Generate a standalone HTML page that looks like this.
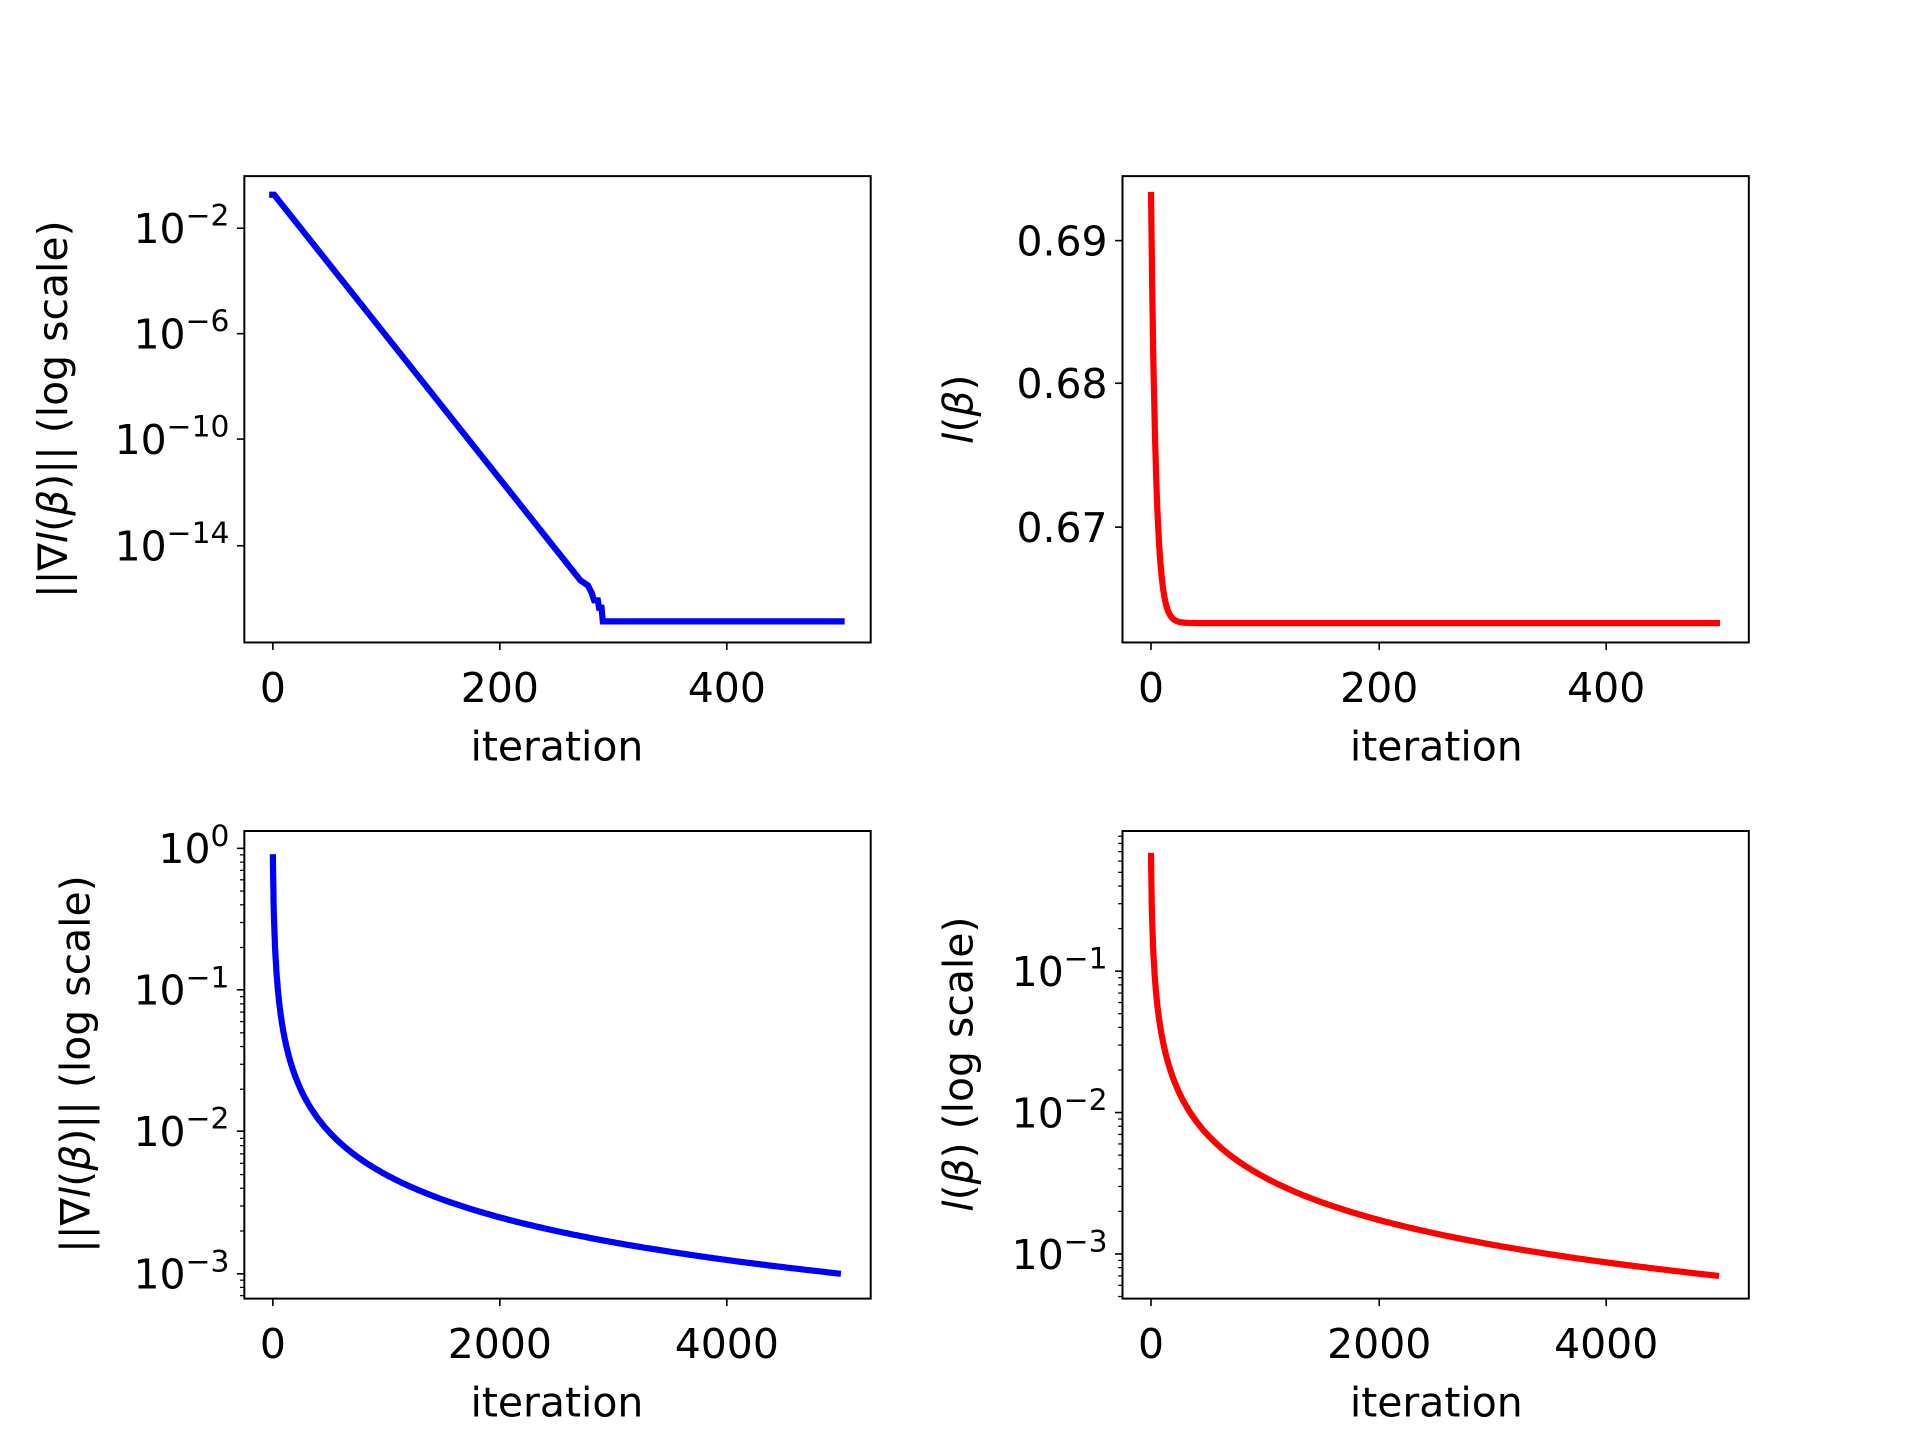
<!DOCTYPE html>
<html><head><meta charset="utf-8"><style>
html,body{margin:0;padding:0;background:#fff;}
svg{display:block;}
text{font-family:"DejaVu Sans","Liberation Sans",sans-serif;fill:#000;}
</style></head><body>
<svg id="s" width="1920" height="1440" viewBox="0 0 1548 1161" xmlns="http://www.w3.org/2000/svg"></svg>
<script>
const S=document.getElementById('s');let h='';
const FS=33;
function ax(x0,y0,x1,y1){h+=`<rect x="${x0}" y="${y0}" width="${x1-x0}" height="${y1-y0}" fill="none" stroke="#000" stroke-width="1.6"/>`;}
function xt(px,lab,yb){h+=`<line x1="${px}" y1="${yb}" x2="${px}" y2="${yb+6}" stroke="#000" stroke-width="1.3"/><text x="${px}" y="${yb+48}" font-size="${FS}" text-anchor="middle">${lab}</text>`;}
function yt(py,lab,xl,sup){h+=`<line x1="${xl}" y1="${py}" x2="${xl-6}" y2="${py}" stroke="#000" stroke-width="1.3"/>`;
 if(sup!==undefined)h+=`<text x="${xl-12}" y="${py+12}" font-size="${FS}" text-anchor="end">10<tspan dy="-14" font-size="24">${sup}</tspan></text>`;
 else h+=`<text x="${xl-12}" y="${py+12}" font-size="${FS}" text-anchor="end">${lab}</text>`;}
function mt(py,xl){h+=`<line x1="${xl}" y1="${py}" x2="${xl-3.5}" y2="${py}" stroke="#000" stroke-width="1"/>`;}
function xl(cx,y){h+=`<text x="${cx}" y="${y}" font-size="${FS}" text-anchor="middle">iteration</text>`;}
function yl(x,cy,t){h+=`<text transform="translate(${x},${cy}) rotate(-90)" font-size="${FS}" text-anchor="middle">${t}</text>`;}
function path(pts,c){h+=`<path d="M${pts.map(p=>p[0].toFixed(1)+','+p[1].toFixed(1)).join('L')}" fill="none" stroke="${c}" stroke-width="5"/>`;}
const lb='<tspan font-style="italic">l</tspan>(<tspan font-style="italic">β</tspan>)';
// top-left
ax(197,142,702,518);
[[0,220],[200,403],[400,586]].forEach(a=>xt(a[1],a[0],518));
[[-2,184],[-6,269],[-10,354],[-14,440]].forEach(a=>yt(a[1],'',197,'−'+(-a[0])));
xl(449,613);yl(54,330,'||∇'+lb+'|| (log scale)');
path([[217,157],[221,157],[468,468],[474,472],[477,478],[479,484],[482,484],[483,490],[485,490],[486,501],[681,501]],'#0000ff');
// top-right
ax(905,142,1410,518);
[[0,928],[200,1112],[400,1295]].forEach(a=>xt(a[1],a[0],518));
[['0.69',194],['0.68',309],['0.67',425]].forEach(a=>yt(a[1],a[0],905));
xl(1158,613);yl(784,330,lb);
{let p=[];for(let t=0;t<=500;t+=0.5){let v=0.6633+0.0301*Math.exp(-t/4.2);p.push([928+t*0.9175,194+(0.69-v)*11550]);}path(p,'#ff0000');}
// bottom-left
ax(197,670,702,1047);
[[0,220],[2000,403],[4000,586]].forEach(a=>xt(a[1],a[0],1047));
const d1=114.3;
[[0,684],[-1,798],[-2,912],[-3,1027]].forEach(a=>yt(a[1],'',197,a[0]==0?'0':'−'+(-a[0])));
for(let e=0;e>=-4;e--)for(let m=2;m<=9;m++){let y=684-(e+Math.log10(m))*d1;if(y>672&&y<1046)mt(y,197);}
xl(449,1142);yl(72,858,'||∇'+lb+'|| (log scale)');
{let p=[];for(let t=0;t<=5000;t+=(t<200?1:20)){let v=5/(t+5.5);p.push([220+t*0.0916,684-Math.log10(v)*d1]);}path(p,'#0000ff');}
// bottom-right
ax(905,670,1410,1047);
[[0,928],[2000,1112],[4000,1295]].forEach(a=>xt(a[1],a[0],1047));
const d2=114;
[[-1,783],[-2,897],[-3,1011]].forEach(a=>yt(a[1],'',905,'−'+(-a[0])));
for(let e=0;e>=-4;e--)for(let m=2;m<=9;m++){let y=669-(e+Math.log10(m))*d2;if(y>672&&y<1046)mt(y,905);}
xl(1158,1142);yl(784,858,lb+' (log scale)');
{let p=[];for(let t=0;t<=5000;t+=(t<200?1:20)){let v=3.5/(t+5.1);p.push([928+t*0.0916,669-Math.log10(v)*d2]);}path(p,'#ff0000');}
S.innerHTML=h;
</script>
</body></html>
